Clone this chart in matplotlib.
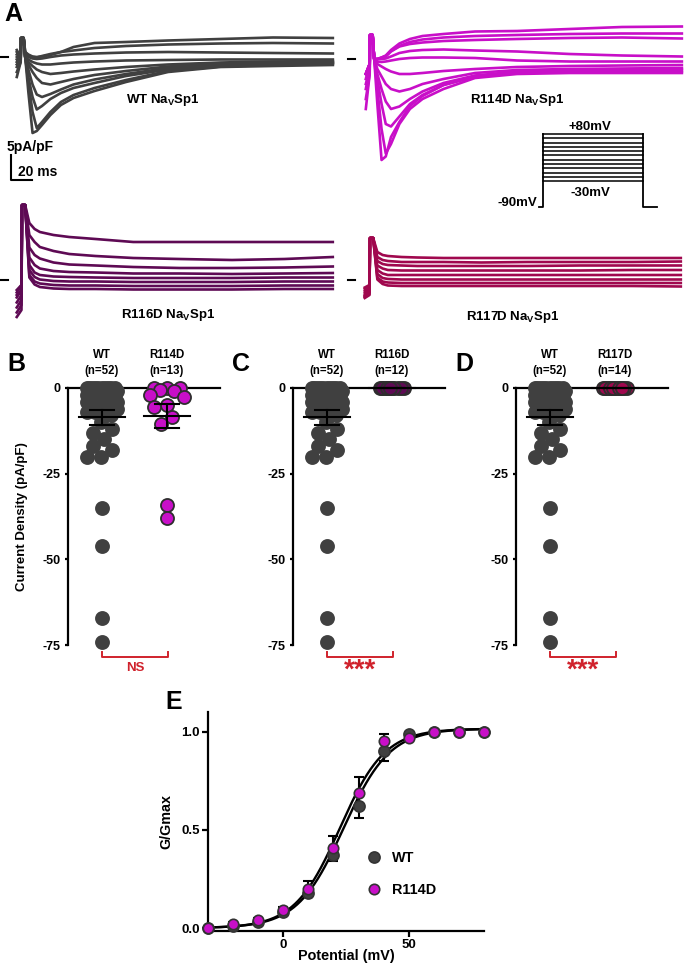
import numpy as np
import matplotlib
matplotlib.use("Agg")
import matplotlib.pyplot as plt

plt.rcParams["font.family"] = "Liberation Sans"
plt.rcParams["font.weight"] = "bold"
plt.rcParams["axes.labelweight"] = "bold"
plt.rcParams["axes.unicode_minus"] = False
plt.rcParams["mathtext.fontset"] = "custom"
plt.rcParams["mathtext.rm"] = "Liberation Sans:bold"
plt.rcParams["mathtext.bf"] = "Liberation Sans:bold"

# ---------------- data ----------------
# panel A: current traces (pA/pF) at knot times (ms)
t_fast = [-4, -0.3, 0, 2.5, 4, 7, 11, 15, 20, 28, 38, 50, 70, 100, 140, 190, 240, 297]
wt_traces = [
    [-4, -1, 3.8, 3.8, 0, -7, -15.2, -14.8, -13.6, -11.6, -9.6, -8.2, -6.8, -5.0, -3.0, -2.0, -1.8, -1.6],
    [-3, -1, 3.8, 3.8, 0, -5, -11, -14.2, -13.0, -11.0, -9.0, -7.6, -6.2, -4.6, -2.8, -1.9, -1.6, -1.4],
    [-2, -0.5, 3.8, 3.8, 0, -4, -8, -10.5, -9.8, -8.4, -7.2, -6.2, -5.2, -3.8, -2.5, -1.7, -1.4, -1.2],
    [-1.5, -0.5, 3.8, 3.8, 0, -2.5, -5.5, -7.5, -8.0, -7.4, -6.5, -5.5, -4.5, -3.4, -2.2, -1.5, -1.3, -1.1],
    [-1, 0, 3.8, 3.8, 0, -1.5, -3, -4.2, -5.2, -5.5, -5.0, -4.4, -3.6, -2.8, -1.9, -1.3, -1.1, -1.0],
    [-0.5, 0, 3.8, 3.8, 0, -1, -1.8, -2.5, -3.0, -3.4, -3.2, -2.9, -2.5, -2.0, -1.5, -1.1, -0.9, -0.8],
    [0, 0, 3.8, 3.8, 0, -0.5, -1.0, -1.3, -1.5, -1.5, -1.3, -1.1, -0.9, -0.7, -0.6, -0.5, -0.5, -0.5],
    [0.5, 0, 3.8, 3.8, 0.5, 0, -0.3, -0.4, -0.3, 0.0, 0.3, 0.5, 0.7, 0.9, 1.0, 0.9, 0.8, 0.7],
    [1, 0, 3.8, 3.8, 1, 0.3, 0, -0.1, 0.2, 0.6, 1.0, 1.3, 1.8, 2.2, 2.5, 2.7, 2.8, 2.7],
    [1.4, 0, 3.8, 3.8, 1, 0.5, 0.1, 0, 0.1, 0.4, 1.0, 2.0, 2.8, 3.0, 3.3, 3.6, 3.9, 3.8],
]
r114d_traces = [
    [-10, -3, 4.8, 4.8, 0, -9, -20.2, -19.5, -15.6, -12.6, -9.4, -7.4, -5.2, -3.4, -2.8, -2.6, -2.6, -2.6],
    [-8, -3, 4.8, 4.8, 0, -6, -14, -18.9, -17, -13, -10, -8, -6, -3.8, -3.0, -2.8, -2.8, -2.8],
    [-6, -2, 4.8, 4.8, 0, -4, -9, -13, -13.5, -11.5, -9, -7.2, -5.2, -3.6, -2.8, -2.5, -2.4, -2.3],
    [-5, -2, 4.8, 4.8, 0, -3, -6, -8.5, -10, -9.5, -8, -6.5, -4.8, -3.3, -2.5, -2.2, -2.1, -2.0],
    [-4, -1, 4.8, 4.8, 0, -2, -3.5, -5, -6, -6.5, -6, -5, -4, -2.8, -2.2, -2.0, -1.9, -1.8],
    [-3, -1, 4.8, 4.8, 0, -1, -1.5, -2, -2.5, -3, -3, -2.8, -2.4, -2, -1.6, -1.4, -1.3, -1.2],
    [-3, -1, 4.8, 4.8, 0, -0.5, -0.6, -0.5, -0.3, 0, 0.2, 0.3, 0.3, 0.2, -0.3, -0.5, -0.5, -0.5],
    [-3, -1, 4.8, 4.8, 0, 0, 0, 0.1, 0.5, 1.2, 1.6, 1.8, 1.9, 1.7, 1.5, 1.0, 0.7, 0.5],
    [-3, -1, 4.8, 4.8, 0, 0, 0.2, 0.5, 1.5, 2.5, 3.0, 3.3, 3.6, 3.8, 4.0, 4.2, 4.3, 4.1],
    [-3, -1, 4.8, 4.8, 0, 0, 0.3, 0.6, 1.6, 2.6, 3.4, 3.9, 4.3, 4.6, 4.8, 5.0, 5.1, 5.1],
    [-3, -1, 4.8, 4.8, 0, 0, 0.3, 0.7, 1.8, 3.1, 4.0, 4.6, 5.0, 5.5, 5.6, 6.0, 6.4, 6.5],
]
t_slow = [-5, -0.5, 0, 3, 7, 12, 17, 30, 45, 70, 106, 150, 200, 250, 296]
r116d_traces = [
    [-7.4, -6, 15, 15, 11.4, 10.2, 9.6, 9.0, 8.6, 8.2, 7.6, 7.6, 7.6, 7.6, 7.6],
    [-6.5, -5, 15, 15, 9.0, 7.6, 6.6, 5.8, 5.2, 4.8, 4.4, 4.2, 4.0, 4.2, 4.6],
    [-5.5, -4, 15, 15, 6.5, 5.0, 4.3, 3.5, 3.1, 2.9, 2.6, 2.4, 2.4, 2.5, 2.7],
    [-4.5, -3, 15, 15, 4.5, 3.0, 2.3, 1.8, 1.6, 1.5, 1.3, 1.3, 1.2, 1.3, 1.4],
    [-3.5, -2, 15, 15, 3.0, 1.5, 1.0, 0.7, 0.6, 0.5, 0.4, 0.4, 0.4, 0.5, 0.5],
    [-3, -2, 15, 15, 2.0, 0.6, 0.1, -0.2, -0.3, -0.3, -0.4, -0.4, -0.4, -0.3, -0.3],
    [-2.5, -1, 15, 15, 1.0, -0.3, -0.7, -1.0, -1.1, -1.1, -1.2, -1.2, -1.2, -1.1, -1.1],
    [-2, -1, 15, 15, 0.5, -0.9, -1.4, -1.7, -1.8, -1.8, -1.9, -1.9, -1.9, -1.8, -1.8],
]
r117d_traces = [
    [-3.6, -3, 8.4, 8.4, 5.6, 5.0, 4.8, 4.6, 4.5, 4.4, 4.4, 4.4, 4.4, 4.4, 4.4],
    [-3.4, -2.8, 8.4, 8.4, 4.6, 4.0, 3.8, 3.6, 3.6, 3.6, 3.5, 3.6, 3.6, 3.6, 3.7],
    [-3.2, -2.5, 8.4, 8.4, 3.8, 3.2, 3.0, 2.9, 2.8, 2.8, 2.8, 2.8, 2.9, 2.9, 2.9],
    [-3.0, -2.2, 8.4, 8.4, 2.9, 2.3, 2.0, 1.9, 1.9, 1.9, 1.9, 1.9, 1.9, 2.0, 2.0],
    [-2.6, -1.8, 8.4, 8.4, 2.0, 1.3, 1.0, 1.0, 1.0, 1.0, 1.0, 1.0, 1.0, 1.0, 1.0],
    [-2.2, -1.5, 8.4, 8.4, 1.2, 0.4, 0.2, 0.1, 0.1, 0.1, 0.1, 0.1, 0.1, 0.1, 0.1],
    [-1.8, -1.2, 8.4, 8.4, 0.5, -0.3, -0.5, -0.6, -0.6, -0.6, -0.6, -0.6, -0.6, -0.6, -0.6],
    [-1.5, -1.0, 8.4, 8.4, 0.1, -0.8, -1.1, -1.2, -1.2, -1.2, -1.2, -1.2, -1.2, -1.2, -1.3],
]
protocol_steps = [-30, -20, -10, 0, 10, 20, 30, 40, 50, 60, 70, 80]
holding_mv = -90
step_ms = 95

# panels B-D: peak current density (pA/pF)
wt_density = [0, 0, 0, 0, 0, 0, 0, 0, 0, 0,
              -1, -1, -1, -1, -1, -1, -1,
              -2, -2, -2, -2, -2, -2,
              -3, -3, -3, -3, -3,
              -4, -4, -4, -4,
              -5, -5, -5,
              -6, -6, -7, -7, -8, -10,
              -12, -13, -15, -17, -18, -20, -20, -35, -46, -67, -74]
r114d_density = [0, 0, 0, -0.5, -1, -2, -2.5, -5, -5.5, -8.5, -10.5, -34, -38]
r116d_density = [0] * 12
r117d_density = [0] * 14

# panel E: conductance-voltage
potential = [-30, -20, -10, 0, 10, 20, 30, 40, 50, 60, 70, 80]
wt_g = [0.0, 0.01, 0.03, 0.08, 0.18, 0.37, 0.62, 0.90, 0.99, 1.0, 1.0, 1.0]
wt_g_sem = [0.005, 0.005, 0.01, 0.01, 0.02, 0.03, 0.06, 0.05, 0.01, 0.005, 0.005, 0.005]
r114d_g = [0.0, 0.02, 0.04, 0.09, 0.20, 0.41, 0.69, 0.95, 0.97, 1.0, 1.0, 1.0]
r114d_g_sem = [0.005, 0.01, 0.01, 0.015, 0.04, 0.06, 0.08, 0.04, 0.01, 0.005, 0.005, 0.005]
wt_fit = (24.0, 9.2, 1.015)      # V1/2, k, Gmax
r114d_fit = (22.5, 9.0, 1.015)

GRAY = "#404040"
MAGENTA = "#c80fc8"
PURPLE = "#5e0a54"
CRIMSON = "#a0084e"
RED = "#d0222c"
EDGE = "#2e2e2e"

W, H = 685, 969
PX_MS, PX_PA = 1.05, 5.0

fig = plt.figure(figsize=(W / 100, H / 100), dpi=100)


def box(x0, y0, x1, y1):
    return fig.add_axes([x0 / W, 1 - y1 / H, (x1 - x0) / W, (y1 - y0) / H])


def label(x, y, s, **kw):
    fig.text(x / W, 1 - y / H, s, **kw)


def trace_panel(x0, y0, x1, y1, t0, v0, t, traces, color, mark):
    ax = box(x0, y0, x1, y1)
    ax.set_xlim((x0 - t0) / PX_MS, (x1 - t0) / PX_MS)
    ax.set_ylim((v0 - y1) / PX_PA, (v0 - y0) / PX_PA)
    ax.axis("off")
    for tr in traces:
        ax.plot(t, tr, color=color, lw=1.9, solid_joinstyle="round")
    # zero-current marker
    ax.plot([(mark[0] - t0) / PX_MS, (mark[1] - t0) / PX_MS], [0, 0], color="k", lw=1.5)
    return ax


# ---------------- panel A ----------------
ax_wt = trace_panel(0, 30, 340, 195, 21, 57, t_fast, wt_traces, GRAY, (0, 8))
trace_panel(340, 20, 685, 215, 370, 59, t_fast, r114d_traces, MAGENTA, (348, 355))
trace_panel(0, 195, 340, 330, 22, 280, t_slow, r116d_traces, PURPLE, (0, 8))
trace_panel(340, 195, 685, 330, 370, 280, t_slow, r117d_traces, CRIMSON, (348, 355))

# scale bar 5 pA/pF x 20 ms
sb_t = (11 - 21) / PX_MS
sb_v = (57 - 180) / PX_PA
ax_wt.plot([sb_t, sb_t, sb_t + 20], [sb_v + 5, sb_v, sb_v], color="k", lw=1.5)
label(7, 147, "5pA/pF", fontsize=10, va="center")
label(18, 172, "20 ms", fontsize=10, va="center")

label(163, 100, r"WT Na$_\mathbf{V}$Sp1", fontsize=9.5, ha="center", va="center")
label(517, 100, r"R114D Na$_\mathbf{V}$Sp1", fontsize=9.5, ha="center", va="center")
label(168, 315, r"R116D Na$_\mathbf{V}$Sp1", fontsize=9.5, ha="center", va="center")
label(513, 317, r"R117D Na$_\mathbf{V}$Sp1", fontsize=9.5, ha="center", va="center")

# voltage protocol
ax_p = box(520, 120, 670, 215)
mv_px = 0.4294
ax_p.set_xlim((520 - 543) / 1.0526, (670 - 543) / 1.0526)
ax_p.set_ylim((207 - 215) / mv_px + holding_mv, (207 - 120) / mv_px + holding_mv)
ax_p.axis("off")
for v in protocol_steps:
    ax_p.plot([0, step_ms], [v, v], color="k", lw=1.1)
ax_p.plot([-4, 0, 0], [holding_mv, holding_mv, max(protocol_steps)], color="k", lw=1.3)
ax_p.plot([step_ms, step_ms, step_ms + 13], [max(protocol_steps), holding_mv, holding_mv], color="k", lw=1.3)
label(590, 127, "+80mV", fontsize=9.5, ha="center", va="center")
label(590, 193, "-30mV", fontsize=9.5, ha="center", va="center")
label(537, 203, "-90mV", fontsize=9.5, ha="right", va="center")

label(4, 2, "A", fontsize=18, va="top")


# ---------------- panels B-D ----------------
def swarm(vals, d=13.0, half=15.0, py_unit=257 / 75):
    vals = np.asarray(vals, float)
    ys = -vals * py_unit
    order = np.argsort(-vals, kind="stable")
    px, py = [], []
    offs = np.zeros(len(vals))
    grid = list(np.linspace(-half, half, 31))
    for i in order:
        y = ys[i]
        cands = [0.0]
        for xj, yj in zip(px, py):
            dy = abs(y - yj)
            if dy < d:
                dx = np.sqrt(d * d - dy * dy)
                cands += [xj + dx, xj - dx]
        cands = [c for c in cands if abs(c) <= half] + grid
        best, best_score = 0.0, None
        for c in cands:
            md = min([np.hypot(c - xj, y - yj) for xj, yj in zip(px, py)] or [1e9])
            score = (md >= d - 1e-6, -abs(c) if md >= d - 1e-6 else md)
            if best_score is None or score > best_score:
                best, best_score = c, score
        px.append(best)
        py.append(y)
        offs[i] = best
    return offs


def density_panel(x0, letter, mut_vals, mut_name, mut_color, sig, sig_size, sig_y):
    ax = box(x0, 388, x0 + 152, 645)
    ax.set_xlim(0.477, 2.815)
    ax.set_ylim(-75, 0)
    for s in ("top", "right", "bottom"):
        ax.spines[s].set_visible(False)
    ax.spines["left"].set_linewidth(1.6)
    ax.axhline(0, color="k", lw=1.6, clip_on=False, zorder=1)
    ax.set_xticks([])
    ax.set_yticks([0, -25, -50, -75])
    ax.tick_params(axis="y", length=2.5, width=1.6, pad=3, labelsize=9)
    groups = [(1, wt_density, "WT", GRAY, GRAY), (2, mut_vals, mut_name, mut_color, EDGE)]
    for x, vals, name, fc, ec in groups:
        vals = np.asarray(vals, float)
        half = 15.0 if name == "WT" else (17.0 if np.ptp(vals) > 0 else 12.0)
        offs = swarm(vals, half=half) / 65.0
        ax.plot(x + offs, vals, "o", ms=9.4, mfc=fc, mec=ec, mew=1.3, ls="none",
                clip_on=False, zorder=3)
        m = vals.mean()
        sem = vals.std(ddof=1) / np.sqrt(len(vals))
        ax.plot([x - 0.36, x + 0.36], [m, m], color="k", lw=1.5, zorder=4, clip_on=False)
        ax.plot([x, x], [m - sem, m + sem], color="k", lw=1.5, zorder=4, clip_on=False)
        for e in (m - sem, m + sem):
            ax.plot([x - 0.18, x + 0.18], [e, e], color="k", lw=1.5, zorder=4, clip_on=False)
        ax.text(x, 9.6, name, ha="center", va="center", fontsize=8.3)
        ax.text(x, 5.0, "(n=%d)" % len(vals), ha="center", va="center", fontsize=8.3)
    ax.plot([1, 1, 2.02, 2.02], [-77, -78.5, -78.5, -77], color=RED, lw=1.4, clip_on=False)
    ax.text(1.51, sig_y, sig, color=RED, ha="center", va="center", fontsize=sig_size)
    label(x0 - 61, 352, letter, fontsize=18, va="top")
    return ax


axB = density_panel(68, "B", r114d_density, "R114D", MAGENTA, "NS", 9.5, -81.8)
axB.set_ylabel("Current Density (pA/pF)", fontsize=9.5)
axB.yaxis.set_label_coords(-0.26, 0.5)
density_panel(293, "C", r116d_density, "R116D", PURPLE, "***", 20, -82.5)
density_panel(516, "D", r117d_density, "R117D", CRIMSON, "***", 20, -82.5)

# ---------------- panel E ----------------
axE = box(208, 712, 484, 931)
axE.set_xlim(-30, 80)
axE.set_ylim(-0.015, 1.1)
for s in ("top", "right"):
    axE.spines[s].set_visible(False)
for s in ("left", "bottom"):
    axE.spines[s].set_linewidth(1.6)
axE.set_xticks([0, 50])
axE.set_yticks([0.0, 0.5, 1.0])
axE.set_yticklabels(["0.0", "0.5", "1.0"])
axE.tick_params(length=4, width=1.6, pad=2, labelsize=9.5)

vv = np.linspace(-30, 80, 400)
for vh, k, gmax in (wt_fit, r114d_fit):
    axE.plot(vv, gmax / (1 + np.exp((vh - vv) / k)), color="k", lw=1.7, zorder=2)

axE.errorbar(potential, wt_g, yerr=wt_g_sem, fmt="none", ecolor="k", elinewidth=1.5,
             capsize=3.5, capthick=1.5, zorder=3)
axE.errorbar(potential, r114d_g, yerr=r114d_g_sem, fmt="none", ecolor="k", elinewidth=1.5,
             capsize=3.5, capthick=1.5, zorder=3)
h1, = axE.plot(potential, wt_g, "o", ms=8, mfc=GRAY, mec="#333333", mew=1.2, ls="none",
               clip_on=False, zorder=4, label="WT")
h2, = axE.plot(potential, r114d_g, "o", ms=7.5, mfc=MAGENTA, mec="#333333", mew=1.2, ls="none",
               clip_on=False, zorder=5, label="R114D")
axE.legend(handles=[h1, h2], loc="upper left", bbox_to_anchor=((367 - 208) / 276, (931 - 851) / 219),
           frameon=False, handlelength=1.0, handletextpad=0.7, labelspacing=1.25, borderpad=0,
           borderaxespad=0, fontsize=10.4, numpoints=1)
axE.set_xlabel("Potential (mV)", fontsize=10.4)
axE.xaxis.set_label_coords(0.5, -0.08)
axE.set_ylabel("G/Gmax", fontsize=10.3)
axE.yaxis.set_label_coords(-0.125, 0.5)
label(165, 690, "E", fontsize=18, va="top")

fig.savefig("out.png", dpi=100)
plt.close("all")
